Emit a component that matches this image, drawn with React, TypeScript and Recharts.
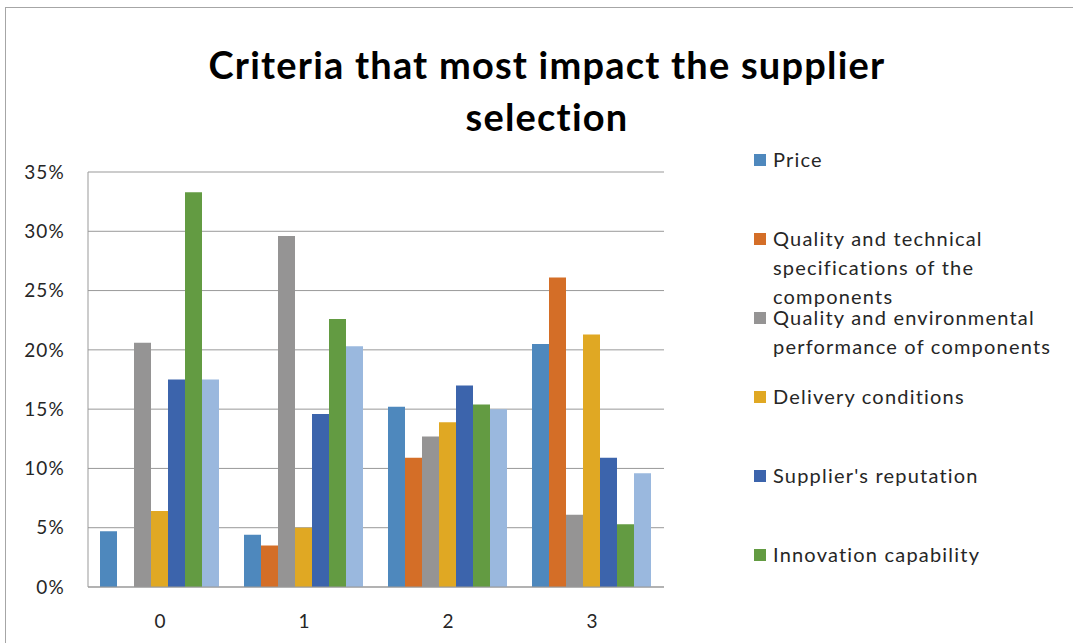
import React from 'react';
import { BarChart, Bar, XAxis, YAxis, CartesianGrid, Legend } from 'recharts';

const categories = ['0', '1', '2', '3'];
const price = [4.7, 4.4, 15.2, 20.5];
const qualityTech = [0, 3.5, 10.9, 26.1];
const qualityEnv = [20.6, 29.6, 12.7, 6.1];
const delivery = [6.4, 5.0, 13.9, 21.3];
const reputation = [17.5, 14.6, 17.0, 10.9];
const innovation = [33.3, 22.6, 15.4, 5.3];
const other = [17.5, 20.3, 15.0, 9.6];
const yTicks = [0, 5, 10, 15, 20, 25, 30, 35];

const seriesNames = [
  'Price',
  'Quality and technical specifications of the components',
  'Quality and environmental performance of components',
  'Delivery conditions',
  "Supplier's reputation",
  'Innovation capability',
  'Other',
];
const seriesValues = [price, qualityTech, qualityEnv, delivery, reputation, innovation, other];
const colors = ['#4E88BD', '#D46E27', '#959494', '#E0A823', '#3C64AC', '#639B42', '#9AB8DE'];

const data = categories.map((c, i) => {
  const row: Record<string, number | string> = { category: c };
  seriesValues.forEach((vals, s) => {
    row['s' + s] = vals[i];
  });
  return row;
});

const FONT = 'Lato, "Open Sans", sans-serif';

const LegendContent = (props: any) => {
  const payload = [...(props.payload || [])]
    .sort((a: any, b: any) => seriesNames.indexOf(a.value) - seriesNames.indexOf(b.value))
    .slice(0, 6);
  return (
    <div style={{ fontFamily: FONT, fontSize: 20, letterSpacing: 1.2, color: '#262626' }}>
      {payload.map((p: any, i: number) => (
        <div key={i} style={{ position: 'relative', height: 79 }}>
          <div
            style={{
              position: 'absolute',
              left: 6,
              top: 9,
              width: 12,
              height: 12,
              background: p.color,
            }}
          />
          <div style={{ position: 'absolute', left: 25, top: 0, width: 295, lineHeight: '29px' }}>{p.value}</div>
        </div>
      ))}
    </div>
  );
};

export default function App() {
  return (
    <div style={{ position: 'absolute', left: 0, top: 0, width: 1073, height: 643, background: '#fff', overflow: 'hidden' }}>
      <div
        style={{
          position: 'absolute',
          left: 5,
          top: 7,
          width: 1200,
          height: 700,
          borderTop: '1px solid #a6a6a6',
          borderLeft: '1px solid #a6a6a6',
        }}
      />
      <div
        style={{
          position: 'absolute',
          left: 0,
          top: 38,
          width: 1094,
          textAlign: 'center',
          fontFamily: FONT,
          fontWeight: 700,
          fontSize: 38,
          letterSpacing: 1.2,
          lineHeight: '52px',
          color: '#000',
        }}
      >
        Criteria that most impact the supplier
        <br />
        selection
      </div>
      <div style={{ position: 'absolute', left: 0, top: 0 }}>
        <BarChart
          width={1073}
          height={643}
          data={data}
          margin={{ top: 172, right: 409, bottom: 26, left: 0 }}
          barCategoryGap={12}
          barGap={0}
        >
          <CartesianGrid vertical={false} stroke="#999" />
          <XAxis
            dataKey="category"
            height={30}
            tickLine={false}
            axisLine={{ stroke: '#999' }}
            tick={{ fill: '#262626', fontSize: 19, fontFamily: FONT }}
            tickMargin={22}
          />
          <YAxis
            width={88}
            domain={[0, 35]}
            ticks={yTicks}
            tickFormatter={(v: number) => `${v}%`}
            tickLine={false}
            tickSize={0}
            tickMargin={23}
            axisLine={{ stroke: '#999' }}
            tick={{ fill: '#262626', fontSize: 19, fontFamily: FONT, letterSpacing: 1.2 }}
            interval={0}
          />
          <Legend
            layout="horizontal"
            verticalAlign="middle"
            align="center"
            content={<LegendContent />}
            wrapperStyle={{ left: 748, top: 145, width: 330 }}
          />
          {seriesNames.map((name, s) => (
            <Bar key={s} dataKey={'s' + s} name={name} fill={colors[s]} isAnimationActive={false} />
          ))}
        </BarChart>
      </div>
    </div>
  );
}
